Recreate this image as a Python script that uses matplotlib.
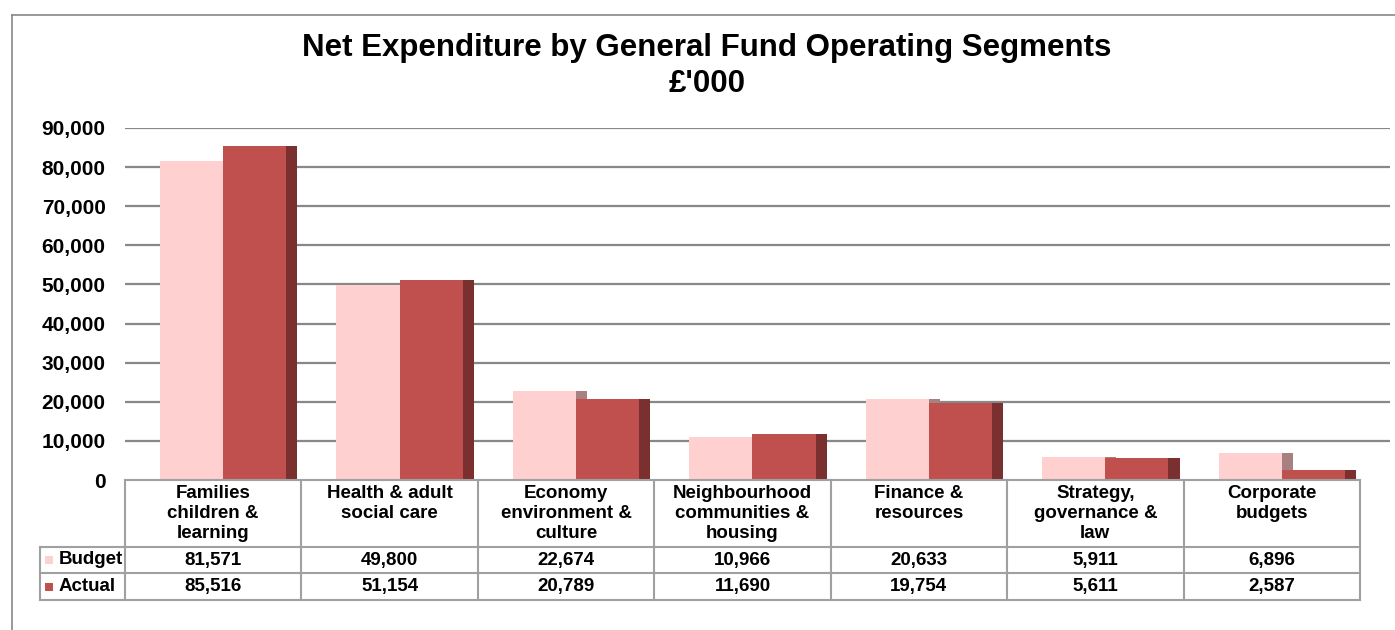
import matplotlib.pyplot as plt
from matplotlib.patches import Rectangle
from matplotlib.ticker import FuncFormatter

plt.rcParams['font.family'] = ['Liberation Sans', 'DejaVu Sans']
plt.rcParams['font.weight'] = 'bold'

categories = ['Families\nchildren &\nlearning', 'Health & adult\nsocial care',
              'Economy\nenvironment &\nculture', 'Neighbourhood\ncommunities &\nhousing',
              'Finance &\nresources', 'Strategy,\ngovernance &\nlaw', 'Corporate\nbudgets']
budget = [81571, 49800, 22674, 10966, 20633, 5911, 6896]
actual = [85516, 51154, 20789, 11690, 19754, 5611, 2587]
series = ['Budget', 'Actual']
yticks = [0, 10000, 20000, 30000, 40000, 50000, 60000, 70000, 80000, 90000]

c_budget = '#FFD0D0'
c_budget_side = '#A88080'
c_actual = '#C0504D'
c_actual_side = '#7B3030'
grid_c = '#888888'
table_c = '#A0A0A0'

W, H = 1395, 630
fig = plt.figure(figsize=(W / 100, H / 100), dpi=100)

# pixel layout
x0, x_end, x_tab_end = 125, 1390, 1360
y_top, y_zero = 128, 480
n = len(categories)
unit = (x_tab_end - x0) / n
xmax = -0.5 + (x_end - x0) / unit

ax = fig.add_axes([x0 / W, (H - y_zero) / H, (x_end - x0) / W, (y_zero - y_top) / H])
ax.set_xlim(-0.5, xmax)
ax.set_ylim(0, 90000)
for s in ax.spines.values():
    s.set_visible(False)
ax.set_xticks([])
ax.set_yticks(yticks)
ax.yaxis.set_major_formatter(FuncFormatter(lambda v, p: f'{int(v):,}'))
ax.tick_params(axis='y', length=0, pad=14, labelsize=15)
for t in yticks[1:]:
    ax.axhline(t, color=grid_c, lw=1.6, zorder=0)

bw = 0.358
depth = 0.063
for i in range(n):
    left = i - 0.302
    ax.add_patch(Rectangle((left, 0), bw, budget[i], color=c_budget, zorder=2, lw=0))
    ax.add_patch(Rectangle((left + bw, 0), depth, budget[i], color=c_budget_side, zorder=2, lw=0))
    ax.add_patch(Rectangle((left + bw, 0), bw, actual[i], color=c_actual, zorder=3, lw=0))
    ax.add_patch(Rectangle((left + 2 * bw, 0), depth, actual[i], color=c_actual_side, zorder=3, lw=0))

# data table below the chart
x_lab = 40
y_bot = 600
tax = fig.add_axes([x_lab / W, (H - y_bot) / H, (x_end - x_lab) / W, (y_bot - y_zero) / H])
tax.set_xlim(-0.5 - (x0 - x_lab) / unit, xmax)
tax.set_ylim(y_bot - y_zero, 0)
tax.axis('off')
r1, r2, r3 = 67, 93, 120
lab_left = -0.5 - (x0 - x_lab) / unit
lw = 1.5
tax.plot([-0.5, n - 0.5], [0, 0], color=table_c, lw=lw, clip_on=False)
for y in (r1, r2, r3):
    tax.plot([lab_left, n - 0.5], [y, y], color=table_c, lw=lw, clip_on=False)
tax.plot([lab_left, lab_left], [r1, r3], color=table_c, lw=lw, clip_on=False)
for i in range(n + 1):
    tax.plot([i - 0.5, i - 0.5], [0, r3], color=table_c, lw=lw, clip_on=False)

for i, cat in enumerate(categories):
    tax.text(i, 5, cat, ha='center', va='top', fontsize=13.5, linespacing=1.22)
    tax.text(i, (r1 + r2) / 2, f'{budget[i]:,}', ha='center', va='center', fontsize=13.5)
    tax.text(i, (r2 + r3) / 2, f'{actual[i]:,}', ha='center', va='center', fontsize=13.5)

key = 8 / unit
for name, color, ya, yb in [(series[0], c_budget, r1, r2), (series[1], c_actual, r2, r3)]:
    ym = (ya + yb) / 2
    tax.add_patch(Rectangle((lab_left + 5 / unit, ym - 4), key, 8, color=color, lw=0))
    tax.text(lab_left + 19 / unit, ym, name, ha='left', va='center', fontsize=13.5)

# outer chart border
fig.add_artist(plt.Line2D([12 / W, 12 / W], [0, (H - 15) / H], color=grid_c, lw=1.2))
fig.add_artist(plt.Line2D([12 / W, 1], [(H - 15) / H, (H - 15) / H], color=grid_c, lw=1.2))

fig.text(707 / W, (H - 66) / H, 'Net Expenditure by General Fund Operating Segments\n£\'000',
         ha='center', va='center', fontsize=22.5, linespacing=1.28)

fig.savefig('out.png', dpi=100)
